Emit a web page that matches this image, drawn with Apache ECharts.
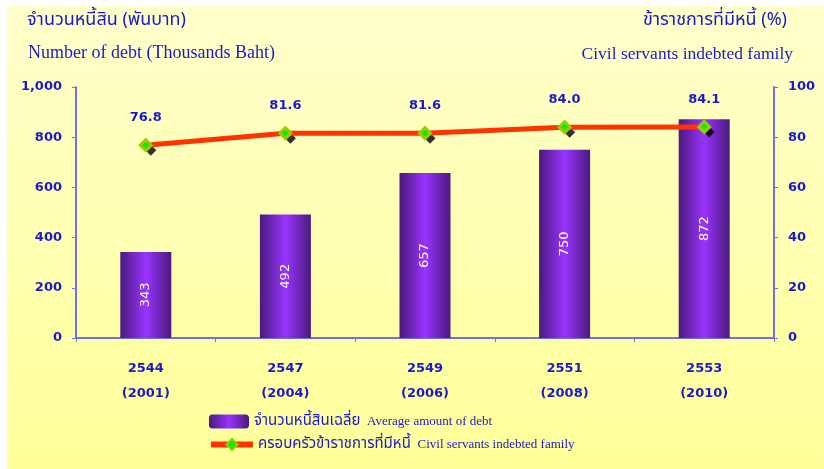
<!DOCTYPE html>
<html lang="th">
<head>
<meta charset="UTF-8">
<title>หนี้สินข้าราชการ</title>
<script src="https://cdn.jsdelivr.net/npm/echarts@6/dist/echarts.min.js"></script>
<style>
  html, body { margin: 0; padding: 0; background: #fff; }
  #main { width: 824px; height: 469px; }
</style>
</head>
<body>
<div id="main"></div>
<script type="text/javascript">
    // ข้อมูล
    var yearsBE = ['2544', '2547', '2549', '2551', '2553'];
    var yearsAD = ['2001', '2004', '2006', '2008', '2010'];
    var avgDebt = [343, 492, 657, 750, 872];
    var indebtedPct = [76.8, 81.6, 81.6, 84.0, 84.1];

    var blue = '#1a1acc';
    var axisColor = '#7070ee';
    var fontFam = 'Tahoma, "DejaVu Sans", "Noto Sans", sans-serif';
    var thaiFont = '"Noto Sans Thai", "DejaVu Sans", "Noto Sans", sans-serif';
    var latinFont = '"Liberation Serif", serif';

    var categories = yearsBE.map(function (y, i) {
        return y + '\n(' + yearsAD[i] + ')';
    });

    var barGradient = new echarts.graphic.LinearGradient(0, 0, 1, 0, [
        {offset: 0, color: '#4a1a7c'},
        {offset: 0.5, color: '#9933ff'},
        {offset: 1, color: '#4a1a7c'}
    ]);

    var myChart = echarts.init(document.getElementById('main'));

    var option = {
        animation: false,
        graphic: [{
            type: 'rect',
            left: 7, top: 6,
            shape: {width: 817, height: 463},
            style: {
                fill: new echarts.graphic.LinearGradient(0, 0, 0, 1, [
                    {offset: 0, color: '#ffffcc'},
                    {offset: 1, color: '#ffff99'}
                ])
            },
            z: -10
        }],
        title: [
            {text: 'จำนวนหนี้สิน (พันบาท)', left: 22, top: 7,
                textStyle: {color: blue, fontSize: 18, fontWeight: 'normal', fontFamily: thaiFont}},
            {text: 'Number of debt (Thousands Baht)', left: 23, top: 39,
                textStyle: {color: blue, fontSize: 18, fontWeight: 'normal', fontFamily: latinFont}},
            {text: 'ข้าราชการที่มีหนี้ (%)', right: 32, top: 7,
                textStyle: {color: blue, fontSize: 18, fontWeight: 'normal', fontFamily: thaiFont}},
            {text: 'Civil servants indebted family', right: 26, top: 40,
                textStyle: {color: blue, fontSize: 17.5, fontWeight: 'normal', fontFamily: latinFont}}
        ],
        legend: [{
            data: ['bar'],
            orient: 'vertical',
            left: 209, top: 414,
            padding: 0,
            itemWidth: 40, itemHeight: 14,
            formatter: function () { return '{th|จำนวนหนี้สินเฉลี่ย}  {en|Average amount of debt}'; },
            textStyle: {
                rich: {
                    th: {color: blue, fontSize: 15, fontFamily: thaiFont},
                    en: {color: blue, fontSize: 13, fontFamily: latinFont}
                }
            }
        }, {
            data: ['line'],
            orient: 'vertical',
            left: 208, top: 437,
            padding: 0,
            itemWidth: 42, itemHeight: 14,
            lineStyle: {width: 6},
            formatter: function () { return '{th|ครอบครัวข้าราชการที่มีหนี้}  {en|Civil servants indebted family}'; },
            textStyle: {
                rich: {
                    th: {color: blue, fontSize: 15, fontFamily: thaiFont},
                    en: {color: blue, fontSize: 13, fontFamily: latinFont}
                }
            }
        }],
        grid: {left: 76, right: 50, top: 87, bottom: 131},
        xAxis: {
            type: 'category',
            data: categories,
            axisLine: {lineStyle: {color: axisColor, width: 2}},
            axisTick: {show: true, length: 4, lineStyle: {color: axisColor}},
            axisLabel: {
                color: blue, fontSize: 13, fontWeight: 'bold', fontFamily: fontFam,
                lineHeight: 25, margin: 18
            }
        },
        yAxis: [{
            type: 'value',
            min: 0, max: 1000, interval: 200,
            axisLine: {show: true, lineStyle: {color: axisColor, width: 2}},
            axisTick: {show: true, length: 4, lineStyle: {color: axisColor}},
            splitLine: {show: false},
            axisLabel: {
                color: blue, fontSize: 13, fontWeight: 'bold', fontFamily: fontFam, margin: 14,
                formatter: function (v) { return v.toLocaleString('en-US'); }
            }
        }, {
            type: 'value',
            min: 0, max: 100, interval: 20,
            position: 'right',
            axisLine: {show: true, lineStyle: {color: axisColor, width: 2}},
            axisTick: {show: true, length: 4, lineStyle: {color: axisColor}},
            splitLine: {show: false},
            axisLabel: {color: blue, fontSize: 13, fontWeight: 'bold', fontFamily: fontFam, margin: 14}
        }],
        series: [{
            name: 'bar',
            type: 'bar',
            data: avgDebt,
            barWidth: 51,
            z: 1,
            itemStyle: {color: barGradient},
            label: {
                show: true,
                position: 'inside',
                rotate: 90,
                color: '#ffffff',
                fontSize: 13,
                fontFamily: fontFam
            }
        }, {
            name: 'shadow',
            type: 'scatter',
            yAxisIndex: 1,
            data: indebtedPct,
            symbol: 'diamond',
            symbolSize: 11,
            symbolOffset: [5, 5],
            itemStyle: {color: '#000000'},
            z: 2,
            silent: true
        }, {
            name: 'line',
            type: 'line',
            yAxisIndex: 1,
            data: indebtedPct,
            symbol: 'diamond',
            symbolSize: 11,
            z: 3,
            lineStyle: {color: '#ff3300', width: 5},
            itemStyle: {color: '#00ee00', borderColor: '#99cc00', borderWidth: 3},
            label: {
                show: true,
                position: 'top',
                distance: 14,
                color: blue,
                fontSize: 13,
                fontWeight: 'bold',
                fontFamily: fontFam,
                formatter: function (p) { return p.value.toFixed(1); }
            }
        }]
    };

    myChart.setOption(option);
</script>
</body>
</html>
